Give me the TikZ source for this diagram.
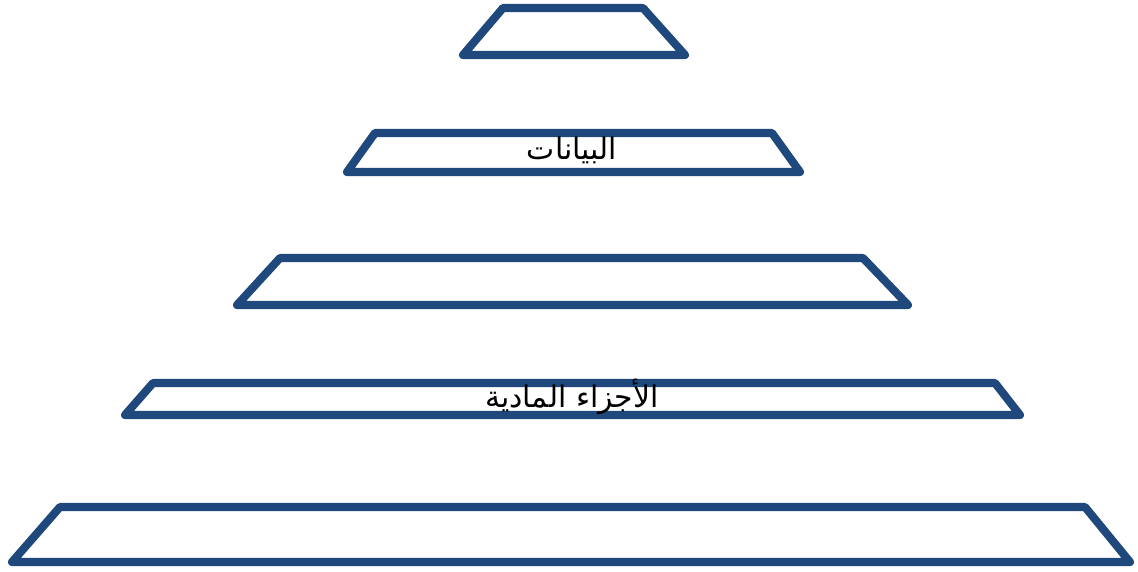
\documentclass[tikz,border=0pt]{standalone}
\usepackage{fontspec}
\newfontfamily\arabicfont[Script=Arabic]{DejaVu Sans}
\TeXXeTstate=1
\definecolor{tierblue}{RGB}{31,73,125}

\begin{document}
\begin{tikzpicture}[
          x=0.02cm, y=-0.02cm,
          tier/.style={
              draw=tierblue,
              fill=white,
              line width=4.6pt,
              line join=round
            },
          tiertext/.style={
              font=\arabicfont\fontsize{17}{20}\selectfont,
              text=black,
              inner sep=0pt
            }
        ]
        \useasboundingbox (0,0) rectangle (1138,571);

        \draw[tier] (503,8) -- (643,8) -- (685,55) -- (463,55) -- cycle;
        \draw[tier] (375,133) -- (772,133) -- (800,172) -- (347,172) -- cycle;
        \draw[tier] (280,258) -- (863,258) -- (908,305) -- (237,305) -- cycle;
        \draw[tier] (153,383) -- (995,383) -- (1020,415) -- (125,415) -- cycle;
        \draw[tier] (60,507) -- (1085,507) -- (1130,562) -- (12,562) -- cycle;

        \node[tiertext] (data) at (572,150) {\beginR البيانات\endR};
        \node[tiertext] (hardware) at (572,397) {\beginR الأجزاء المادية\endR};
      \end{tikzpicture}
\end{document}
